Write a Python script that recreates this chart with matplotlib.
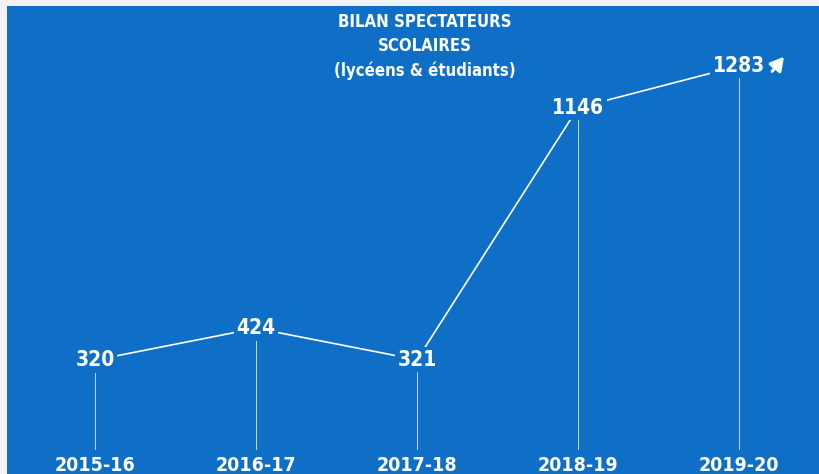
import matplotlib.pyplot as plt
from matplotlib import font_manager

saisons = ["2015-16", "2016-17", "2017-18", "2018-19", "2019-20"]
spectateurs = [320, 424, 321, 1146, 1283]

BLEU = "#0f6fc6"

# police etroite si dispo
cond = [f for f in font_manager.fontManager.ttflist
        if f.name == "DejaVu Sans" and f.stretch == "condensed"]
plt.rcParams["font.family"] = ["DejaVu Sans"]
plt.rcParams["font.weight"] = "bold"
plt.rcParams["font.stretch"] = "condensed" if cond else "normal"

fig = plt.figure(figsize=(8.2, 4.74), dpi=100, facecolor="#f2f2f2")
ax = fig.add_axes([7 / 820, 0, 813 / 820, 468 / 474])
ax.set_facecolor(BLEU)
for s in ax.spines.values():
    s.set_visible(False)
ax.set_xticks([])
ax.set_yticks([])
ax.set_xlim(-0.547, 4.503)
ax.set_ylim(-53, 1479)

x = list(range(len(saisons)))
ax.plot(x, spectateurs, color="white", lw=1.2, zorder=2)

# traits verticaux sous chaque point
for xi, v in zip(x, spectateurs):
    ax.plot([xi, xi], [-53, v], color="white", lw=0.7, alpha=0.75, zorder=1)

# valeurs
for xi, v in zip(x, spectateurs):
    ax.text(xi, v, str(v), color="white", fontsize=15, ha="center", va="center",
            zorder=3, bbox=dict(boxstyle="square,pad=0.12", fc=BLEU, ec="none"))

# saisons en bas
for xi, s in zip(x, saisons):
    ax.text(xi, -26, s, color="white", fontsize=14, ha="center", va="center",
            zorder=3, bbox=dict(boxstyle="square,pad=0.3", fc=BLEU, ec="none"))

# fleche de tendance
ax.annotate("", xy=(4.29, 1320), xytext=(4.195, 1258),
            arrowprops=dict(arrowstyle="-|>,head_length=0.8,head_width=0.45",
                            color="white", lw=2.2))

fig.text(425 / 820, 1 - 22 / 474, "BILAN SPECTATEURS", color="white",
         fontsize=12, ha="center", va="center")
fig.text(425 / 820, 1 - 46 / 474, "SCOLAIRES", color="white",
         fontsize=12, ha="center", va="center")
fig.text(425 / 820, 1 - 71 / 474, "(lycéens & étudiants)", color="white",
         fontsize=12, ha="center", va="center")

fig.savefig("out.png", dpi=100, facecolor=fig.get_facecolor())
